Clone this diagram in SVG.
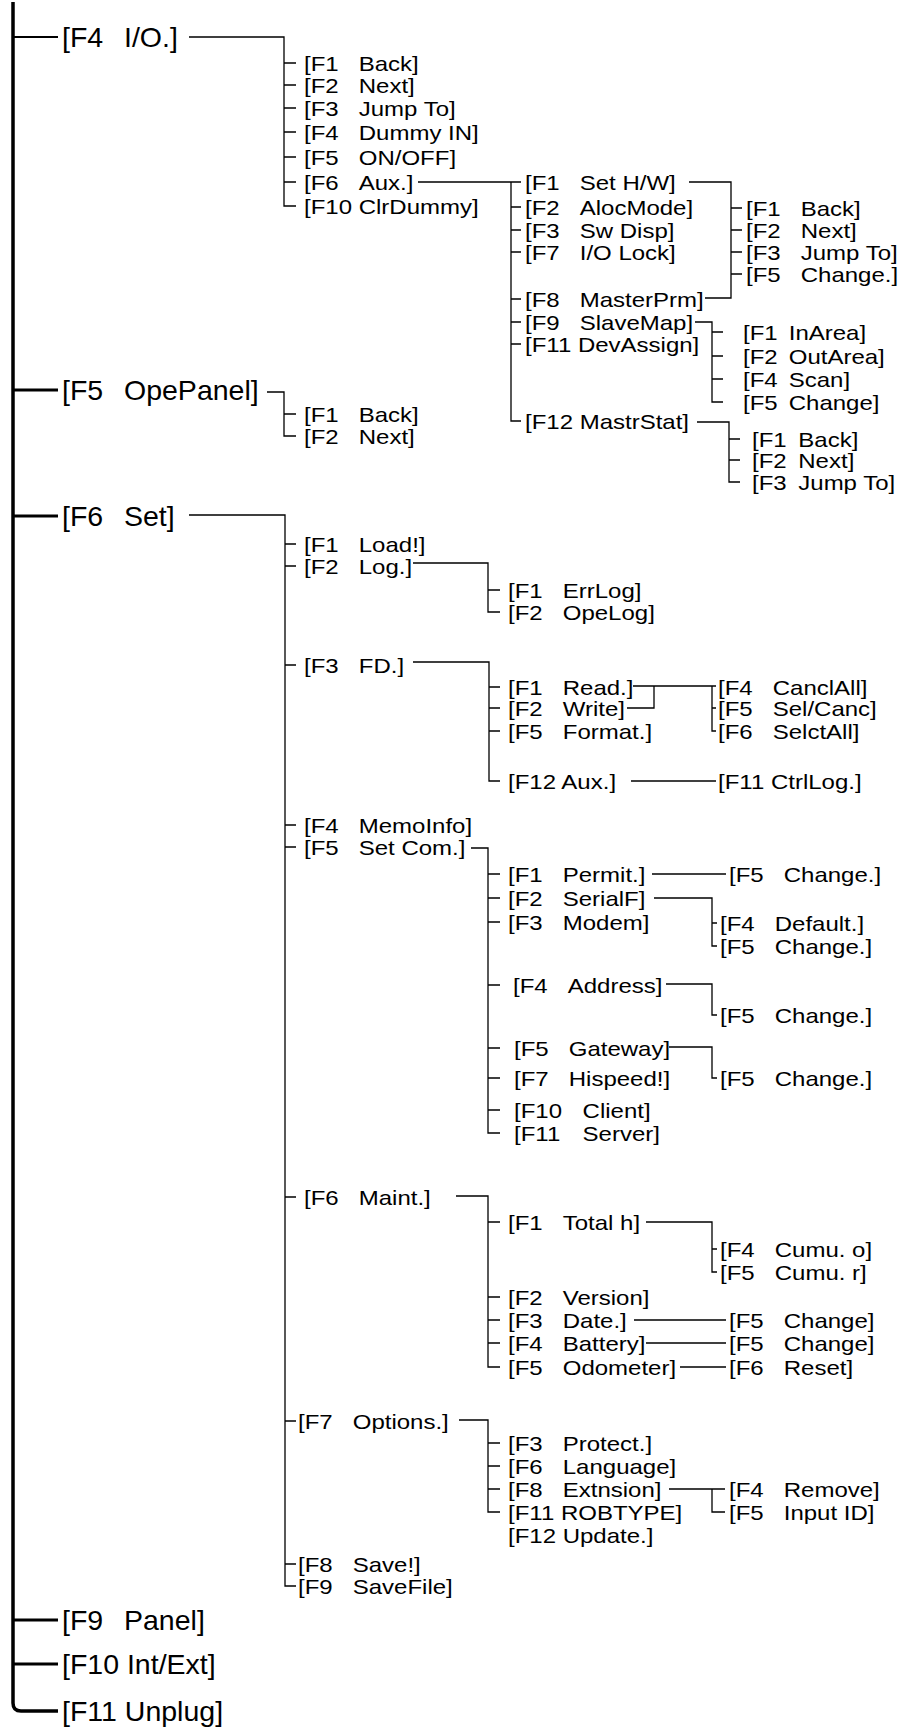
<svg xmlns="http://www.w3.org/2000/svg" width="900" height="1730" viewBox="0 0 900 1730">
<style>
.t{font-family:"Liberation Sans",Arial,sans-serif;font-size:21px;fill:#000}
.t0{font-family:"Liberation Sans",Arial,sans-serif;font-size:28.5px;fill:#000}
.c{stroke:#000;stroke-width:1.3;fill:none}
.b{stroke:#000;stroke-width:3.5;fill:none}
.s0{stroke:#000;stroke-width:3;fill:none}
</style>
<rect width="900" height="1730" fill="#fff"/>
<g id="connectors">
<path class="b" d="M13,2 V1703 Q13,1711 21,1711 H58"/>
<path class="c" style="stroke-width:1.8" d="M13,37 H58"/>
<path class="s0" d="M13,390 H58 M13,516 H58 M13,1620 H58 M13,1664 H58"/>
<path class="c" d="M189,37 H284 V206 H296 M284,63 H296 M284,85 H296 M284,108 H296 M284,132 H296 M284,157 H296 M284,182 H296"/>
<path class="c" d="M418,182 H521 M511,182 V421 H521 M511,207 H521 M511,230 H521 M511,252 H521 M511,299 H521 M511,322 H521 M511,344 H521"/>
<path class="c" d="M689,182 H731 V298 H705 M731,208 H742 M731,230 H742 M731,252 H742 M731,274 H742"/>
<path class="c" d="M695,322 H712 V402 H723 M712,332 H723 M712,356 H723 M712,379 H723"/>
<path class="c" d="M697,422 H729 V482 H740 M729,439 H740 M729,460 H740"/>
<path class="c" d="M267,392 H284 V436 H296 M284,414 H296"/>
<path class="c" d="M189,515 H285 V1586 H296 M285,544 H296 M285,566 H296 M285,665 H296 M285,825 H296 M285,847 H296 M285,1197 H296 M285,1421 H296 M285,1564 H296"/>
<path class="c" d="M413,563 H488 V612 H500 M488,590 H500"/>
<path class="c" d="M413,662 H489 V781 H500 M489,687 H500 M489,708 H500 M489,731 H500"/>
<path class="c" d="M633,686 H716 M627,708 H654 V686 M712,686 V731 H716 M712,708 H716"/>
<path class="c" d="M631,781 H716"/>
<path class="c" d="M471,848 H488 V1133 H500 M488,874 H500 M488,898 H500 M488,922 H500 M488,985 H500 M488,1048 H500 M488,1078 H500 M488,1110 H500"/>
<path class="c" d="M652,874 H726"/>
<path class="c" d="M654,898 H712 V946 H717 M712,923 H717"/>
<path class="c" d="M666,984 H712 V1015 H717"/>
<path class="c" d="M669,1047 H712 V1078 H717"/>
<path class="c" d="M456,1196 H488 V1367 H500 M488,1222 H500 M488,1297 H500 M488,1320 H500 M488,1343 H500"/>
<path class="c" d="M646,1222 H712 V1272 H717 M712,1249 H717"/>
<path class="c" d="M634,1320 H726 M646,1343 H726 M680,1367 H726"/>
<path class="c" d="M459,1420 H488 V1512 H500 M488,1443 H500 M488,1466 H500 M488,1489 H500"/>
<path class="c" d="M669,1489 H725 M712,1489 V1512 H725"/>
</g>
<g id="n-io"><text class="t0" x="62" y="47">[F4<tspan x="124">I/O.]</tspan></text></g>
<g id="n-opepanel"><text class="t0" x="62" y="400">[F5<tspan x="124">OpePanel]</tspan></text></g>
<g id="n-set"><text class="t0" x="62" y="526">[F6<tspan x="124">Set]</tspan></text></g>
<g id="n-panel"><text class="t0" x="62" y="1630">[F9<tspan x="124">Panel]</tspan></text></g>
<g id="n-intext"><text class="t0" x="62" y="1674">[F10 Int/Ext]</text></g>
<g id="n-unplug"><text class="t0" x="62" y="1721">[F11 Unplug]</text></g>

<g id="n-io-back"><text class="t" transform="translate(304,70.5) scale(1.143,1)">[F1<tspan x="47.9">Back]</tspan></text></g>
<g id="n-io-next"><text class="t" transform="translate(304,92.5) scale(1.143,1)">[F2<tspan x="47.9">Next]</tspan></text></g>
<g id="n-io-jump"><text class="t" transform="translate(304,115.5) scale(1.143,1)">[F3<tspan x="47.9">Jump To]</tspan></text></g>
<g id="n-io-dummy"><text class="t" transform="translate(304,139.5) scale(1.143,1)">[F4<tspan x="47.9">Dummy IN]</tspan></text></g>
<g id="n-io-onoff"><text class="t" transform="translate(304,164.5) scale(1.143,1)">[F5<tspan x="47.9">ON/OFF]</tspan></text></g>
<g id="n-io-aux"><text class="t" transform="translate(304,189.5) scale(1.143,1)">[F6<tspan x="47.9">Aux.]</tspan></text></g>
<g id="n-io-clr"><text class="t" transform="translate(304,213.5) scale(1.143,1)">[F10 ClrDummy]</text></g>

<g id="n-aux-sethw"><text class="t" transform="translate(525,189.5) scale(1.143,1)">[F1<tspan x="47.9">Set H/W]</tspan></text></g>
<g id="n-aux-aloc"><text class="t" transform="translate(525,214.5) scale(1.143,1)">[F2<tspan x="47.9">AlocMode]</tspan></text></g>
<g id="n-aux-sw"><text class="t" transform="translate(525,237.5) scale(1.143,1)">[F3<tspan x="47.9">Sw Disp]</tspan></text></g>
<g id="n-aux-lock"><text class="t" transform="translate(525,259.5) scale(1.143,1)">[F7<tspan x="47.9">I/O Lock]</tspan></text></g>
<g id="n-aux-master"><text class="t" transform="translate(525,306.5) scale(1.143,1)">[F8<tspan x="47.9">MasterPrm]</tspan></text></g>
<g id="n-aux-slave"><text class="t" transform="translate(525,329.5) scale(1.143,1)">[F9<tspan x="47.9">SlaveMap]</tspan></text></g>
<g id="n-aux-dev"><text class="t" transform="translate(525,351.5) scale(1.143,1)">[F11 DevAssign]</text></g>
<g id="n-aux-mstat"><text class="t" transform="translate(525,428.5) scale(1.143,1)">[F12 MastrStat]</text></g>

<g id="n-hw-back"><text class="t" transform="translate(746,215.5) scale(1.143,1)">[F1<tspan x="47.9">Back]</tspan></text></g>
<g id="n-hw-next"><text class="t" transform="translate(746,237.5) scale(1.143,1)">[F2<tspan x="47.9">Next]</tspan></text></g>
<g id="n-hw-jump"><text class="t" transform="translate(746,259.5) scale(1.143,1)">[F3<tspan x="47.9">Jump To]</tspan></text></g>
<g id="n-hw-change"><text class="t" transform="translate(746,281.5) scale(1.143,1)">[F5<tspan x="47.9">Change.]</tspan></text></g>

<g id="n-sm-in"><text class="t" transform="translate(743,339.5) scale(1.143,1)">[F1<tspan x="40">InArea]</tspan></text></g>
<g id="n-sm-out"><text class="t" transform="translate(743,363.5) scale(1.143,1)">[F2<tspan x="40">OutArea]</tspan></text></g>
<g id="n-sm-scan"><text class="t" transform="translate(743,386.5) scale(1.143,1)">[F4<tspan x="40">Scan]</tspan></text></g>
<g id="n-sm-change"><text class="t" transform="translate(743,409.5) scale(1.143,1)">[F5<tspan x="40">Change]</tspan></text></g>

<g id="n-ms-back"><text class="t" transform="translate(752,446.5) scale(1.143,1)">[F1<tspan x="40.5">Back]</tspan></text></g>
<g id="n-ms-next"><text class="t" transform="translate(752,467.5) scale(1.143,1)">[F2<tspan x="40.5">Next]</tspan></text></g>
<g id="n-ms-jump"><text class="t" transform="translate(752,489.5) scale(1.143,1)">[F3<tspan x="40.5">Jump To]</tspan></text></g>

<g id="n-op-back"><text class="t" transform="translate(304,421.5) scale(1.143,1)">[F1<tspan x="47.9">Back]</tspan></text></g>
<g id="n-op-next"><text class="t" transform="translate(304,443.5) scale(1.143,1)">[F2<tspan x="47.9">Next]</tspan></text></g>

<g id="n-set-load"><text class="t" transform="translate(304,551.5) scale(1.143,1)">[F1<tspan x="47.9">Load!]</tspan></text></g>
<g id="n-set-log"><text class="t" transform="translate(304,573.5) scale(1.143,1)">[F2<tspan x="47.9">Log.]</tspan></text></g>
<g id="n-set-fd"><text class="t" transform="translate(304,672.5) scale(1.143,1)">[F3<tspan x="47.9">FD.]</tspan></text></g>
<g id="n-set-memo"><text class="t" transform="translate(304,832.5) scale(1.143,1)">[F4<tspan x="47.9">MemoInfo]</tspan></text></g>
<g id="n-set-com"><text class="t" transform="translate(304,854.5) scale(1.143,1)">[F5<tspan x="47.9">Set Com.]</tspan></text></g>
<g id="n-set-maint"><text class="t" transform="translate(304,1204.5) scale(1.143,1)">[F6<tspan x="47.9">Maint.]</tspan></text></g>
<g id="n-set-opt"><text class="t" transform="translate(298,1428.5) scale(1.143,1)">[F7<tspan x="47.9">Options.]</tspan></text></g>
<g id="n-set-save"><text class="t" transform="translate(298,1571.5) scale(1.143,1)">[F8<tspan x="47.9">Save!]</tspan></text></g>
<g id="n-set-savefile"><text class="t" transform="translate(298,1593.5) scale(1.143,1)">[F9<tspan x="47.9">SaveFile]</tspan></text></g>

<g id="n-log-err"><text class="t" transform="translate(508,597.5) scale(1.143,1)">[F1<tspan x="47.9">ErrLog]</tspan></text></g>
<g id="n-log-ope"><text class="t" transform="translate(508,619.5) scale(1.143,1)">[F2<tspan x="47.9">OpeLog]</tspan></text></g>

<g id="n-fd-read"><text class="t" transform="translate(508,694.5) scale(1.143,1)">[F1<tspan x="47.9">Read.]</tspan></text></g>
<g id="n-fd-write"><text class="t" transform="translate(508,715.5) scale(1.143,1)">[F2<tspan x="47.9">Write]</tspan></text></g>
<g id="n-fd-format"><text class="t" transform="translate(508,738.5) scale(1.143,1)">[F5<tspan x="47.9">Format.]</tspan></text></g>
<g id="n-fd-aux"><text class="t" transform="translate(508,788.5) scale(1.143,1)">[F12 Aux.]</text></g>
<g id="n-rd-cancl"><text class="t" transform="translate(718,694.5) scale(1.143,1)">[F4<tspan x="47.9">CanclAll]</tspan></text></g>
<g id="n-rd-sel"><text class="t" transform="translate(718,715.5) scale(1.143,1)">[F5<tspan x="47.9">Sel/Canc]</tspan></text></g>
<g id="n-rd-selall"><text class="t" transform="translate(718,738.5) scale(1.143,1)">[F6<tspan x="47.9">SelctAll]</tspan></text></g>
<g id="n-fd-ctrllog"><text class="t" transform="translate(718,788.5) scale(1.143,1)">[F11 CtrlLog.]</text></g>

<g id="n-com-permit"><text class="t" transform="translate(508,881.5) scale(1.143,1)">[F1<tspan x="47.9">Permit.]</tspan></text></g>
<g id="n-com-serial"><text class="t" transform="translate(508,905.5) scale(1.143,1)">[F2<tspan x="47.9">SerialF]</tspan></text></g>
<g id="n-com-modem"><text class="t" transform="translate(508,929.5) scale(1.143,1)">[F3<tspan x="47.9">Modem]</tspan></text></g>
<g id="n-com-address"><text class="t" transform="translate(513,992.5) scale(1.143,1)">[F4<tspan x="47.9">Address]</tspan></text></g>
<g id="n-com-gateway"><text class="t" transform="translate(514,1055.5) scale(1.143,1)">[F5<tspan x="47.9">Gateway]</tspan></text></g>
<g id="n-com-hispeed"><text class="t" transform="translate(514,1085.5) scale(1.143,1)">[F7<tspan x="47.9">Hispeed!]</tspan></text></g>
<g id="n-com-client"><text class="t" transform="translate(514,1117.5) scale(1.143,1)">[F10<tspan x="60">Client]</tspan></text></g>
<g id="n-com-server"><text class="t" transform="translate(514,1140.5) scale(1.143,1)">[F11<tspan x="60">Server]</tspan></text></g>
<g id="n-permit-change"><text class="t" transform="translate(729,881.5) scale(1.143,1)">[F5<tspan x="47.9">Change.]</tspan></text></g>
<g id="n-serial-default"><text class="t" transform="translate(720,930.5) scale(1.143,1)">[F4<tspan x="47.9">Default.]</tspan></text></g>
<g id="n-serial-change"><text class="t" transform="translate(720,953.5) scale(1.143,1)">[F5<tspan x="47.9">Change.]</tspan></text></g>
<g id="n-address-change"><text class="t" transform="translate(720,1022.5) scale(1.143,1)">[F5<tspan x="47.9">Change.]</tspan></text></g>
<g id="n-gateway-change"><text class="t" transform="translate(720,1085.5) scale(1.143,1)">[F5<tspan x="47.9">Change.]</tspan></text></g>

<g id="n-mt-total"><text class="t" transform="translate(508,1229.5) scale(1.143,1)">[F1<tspan x="47.9">Total h]</tspan></text></g>
<g id="n-mt-version"><text class="t" transform="translate(508,1304.5) scale(1.143,1)">[F2<tspan x="47.9">Version]</tspan></text></g>
<g id="n-mt-date"><text class="t" transform="translate(508,1327.5) scale(1.143,1)">[F3<tspan x="47.9">Date.]</tspan></text></g>
<g id="n-mt-battery"><text class="t" transform="translate(508,1350.5) scale(1.143,1)">[F4<tspan x="47.9">Battery]</tspan></text></g>
<g id="n-mt-odo"><text class="t" transform="translate(508,1374.5) scale(1.143,1)">[F5<tspan x="47.9">Odometer]</tspan></text></g>
<g id="n-total-o"><text class="t" transform="translate(720,1256.5) scale(1.143,1)">[F4<tspan x="47.9">Cumu. o]</tspan></text></g>
<g id="n-total-r"><text class="t" transform="translate(720,1279.5) scale(1.143,1)">[F5<tspan x="47.9">Cumu. r]</tspan></text></g>
<g id="n-date-change"><text class="t" transform="translate(729,1327.5) scale(1.143,1)">[F5<tspan x="47.9">Change]</tspan></text></g>
<g id="n-battery-change"><text class="t" transform="translate(729,1350.5) scale(1.143,1)">[F5<tspan x="47.9">Change]</tspan></text></g>
<g id="n-odo-reset"><text class="t" transform="translate(729,1374.5) scale(1.143,1)">[F6<tspan x="47.9">Reset]</tspan></text></g>

<g id="n-opt-protect"><text class="t" transform="translate(508,1450.5) scale(1.143,1)">[F3<tspan x="47.9">Protect.]</tspan></text></g>
<g id="n-opt-lang"><text class="t" transform="translate(508,1473.5) scale(1.143,1)">[F6<tspan x="47.9">Language]</tspan></text></g>
<g id="n-opt-ext"><text class="t" transform="translate(508,1496.5) scale(1.143,1)">[F8<tspan x="47.9">Extnsion]</tspan></text></g>
<g id="n-opt-rob"><text class="t" transform="translate(508,1519.5) scale(1.143,1)">[F11 ROBTYPE]</text></g>
<g id="n-opt-update"><text class="t" transform="translate(508,1542.5) scale(1.143,1)">[F12 Update.]</text></g>
<g id="n-ext-remove"><text class="t" transform="translate(729,1496.5) scale(1.143,1)">[F4<tspan x="47.9">Remove]</tspan></text></g>
<g id="n-ext-input"><text class="t" transform="translate(729,1519.5) scale(1.143,1)">[F5<tspan x="47.9">Input ID]</tspan></text></g>
</svg>
